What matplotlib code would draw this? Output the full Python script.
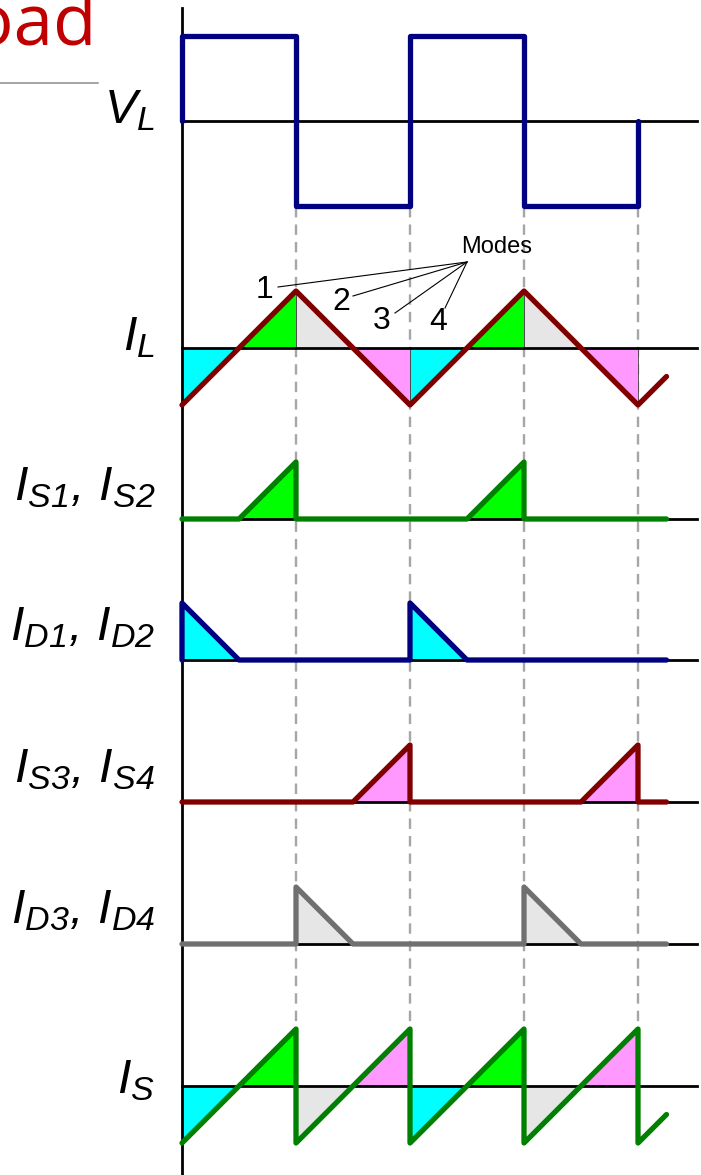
import matplotlib
matplotlib.use('Agg')
import matplotlib.pyplot as plt
import numpy as np

plt.rcParams['font.family'] = 'Liberation Sans'
plt.rcParams['mathtext.fontset'] = 'custom'
plt.rcParams['mathtext.rm'] = 'Liberation Sans:italic'
plt.rcParams['mathtext.it'] = 'Liberation Sans:italic'

# time axis in half periods of the load voltage
t_vl = [0, 0, 1, 1, 2, 2, 3, 3, 4, 4]
v_l = [0, 1, 1, -1, -1, 1, 1, -1, -1, 0]

t_il = [0, 1, 2, 3, 4, 4.25]
i_l = [-1, 1, -1, 1, -1, -0.5]

t_s12 = [0, 0.5, 1, 1, 2.5, 3, 3, 4.25]
i_s12 = [0, 0, 1, 0, 0, 1, 0, 0]

t_d12 = [0, 0, 0.5, 2, 2, 2.5, 4.25]
i_d12 = [0, 1, 0, 0, 1, 0, 0]

t_s34 = [0, 1.5, 2, 2, 3.5, 4, 4, 4.25]
i_s34 = [0, 0, 1, 0, 0, 1, 0, 0]

t_d34 = [0, 1, 1, 1.5, 3, 3, 3.5, 4.25]
i_d34 = [0, 0, 1, 0, 0, 1, 0, 0]

t_is = [0, 1, 1, 2, 2, 3, 3, 4, 4, 4.25]
i_s = [-1, 1, -1, 1, -1, 1, -1, 1, -1, -0.5]

mode_edges = [0, 0.5, 1, 1.5, 2, 2.5, 3, 3.5, 4]
mode_colors = ['#00ffff', '#00ff00', '#e6e6e6', '#ff99ff']
mode_names = ['1', '2', '3', '4']
switch_times = [1, 2, 3, 4]

W, H = 701, 1175
X0, XU, YU = 182, 114, 57   # origin and pixel size of one time / current unit


def px(x):
    return (x - X0) / XU


def py(y):
    return (H - y) / YU


# label, time, values, colour, baseline (px), scale, label baseline shift (px)
panels = [
    (r'$V_L$', t_vl, v_l, '#000080', 121, 85 / YU, 2),
    (r'$I_L$', t_il, i_l, '#800000', 348, 1, 2),
    (r'$I_{S1},\,I_{S2}$', t_s12, i_s12, '#008000', 519, 1, -19),
    (r'$I_{D1},\,I_{D2}$', t_d12, i_d12, '#000080', 660, 1, -20),
    (r'$I_{S3},\,I_{S4}$', t_s34, i_s34, '#800000', 802, 1, -20),
    (r'$I_{D3},\,I_{D4}$', t_d34, i_d34, '#707070', 944, 1, -21),
    (r'$I_S$', t_is, i_s, '#008000', 1086, 1, 7),
]

fig = plt.figure(figsize=(W / 100, H / 100), dpi=100)
ax = fig.add_axes([0, 0, 1, 1])
ax.set_xlim(px(0), px(W))
ax.set_ylim(py(H), py(0))
ax.axis('off')

# time axis
ax.plot([0, 0], [py(8), py(H)], color='black', lw=2, zorder=3)

# switching instants
for ts in switch_times:
    ax.plot([ts, ts], [py(207), py(1029)], color='#a6a6a6', lw=1.7,
            linestyle=(0, (4.4, 3)), zorder=1)

eps = 1e-6
for label, t, v, color, base, scale, dy in panels:
    y0 = py(base)
    t = np.array(t, dtype=float)
    v = np.array(v, dtype=float)
    ax.plot([0, px(697)], [y0, y0], color='black', lw=2, zorder=3)
    if label != r'$V_L$':
        for k in range(len(mode_edges) - 1):
            a, b = mode_edges[k], mode_edges[k + 1]
            ya = np.interp(a + eps, t, v)
            yb = np.interp(b - eps, t, v)
            if abs(ya) < 1e-9 and abs(yb) < 1e-9:
                continue
            ax.fill_between([a, b], [y0 + ya * scale, y0 + yb * scale], y0,
                            color=mode_colors[k % 4], edgecolor='#404040',
                            lw=0.6, zorder=2)
    ax.plot(t, y0 + v * scale, color=color, lw=3.8, zorder=4,
            solid_joinstyle='round', solid_capstyle='round')
    ax.text(px(155), py(base + dy), label, fontsize=35, ha='right',
            va='baseline')

# mode callouts
ax.text(px(497), py(247), 'Modes', fontsize=17, ha='center', va='center')
num_pos = [(265, 290), (341, 302), (382, 321), (438, 322)]
lead_end = [(278, 287), (353, 296), (395, 313), (445, 308)]
for name, (nx, ny), (lx, ly) in zip(mode_names, num_pos, lead_end):
    ax.text(px(nx), py(ny), name, fontsize=23, ha='center', va='center')
    ax.plot([px(467), px(lx)], [py(262), py(ly)], color='black', lw=0.8,
            zorder=5)

# title fragment from the slide
ax.text(px(97), py(45), 'Load', fontsize=51, color='#c00000',
        family='Open Sans', ha='right', va='baseline')
ax.plot([px(0), px(98)], [py(83), py(83)], color='#8c8c8c', lw=1.1)

fig.savefig('out.png', dpi=100)
plt.close()
